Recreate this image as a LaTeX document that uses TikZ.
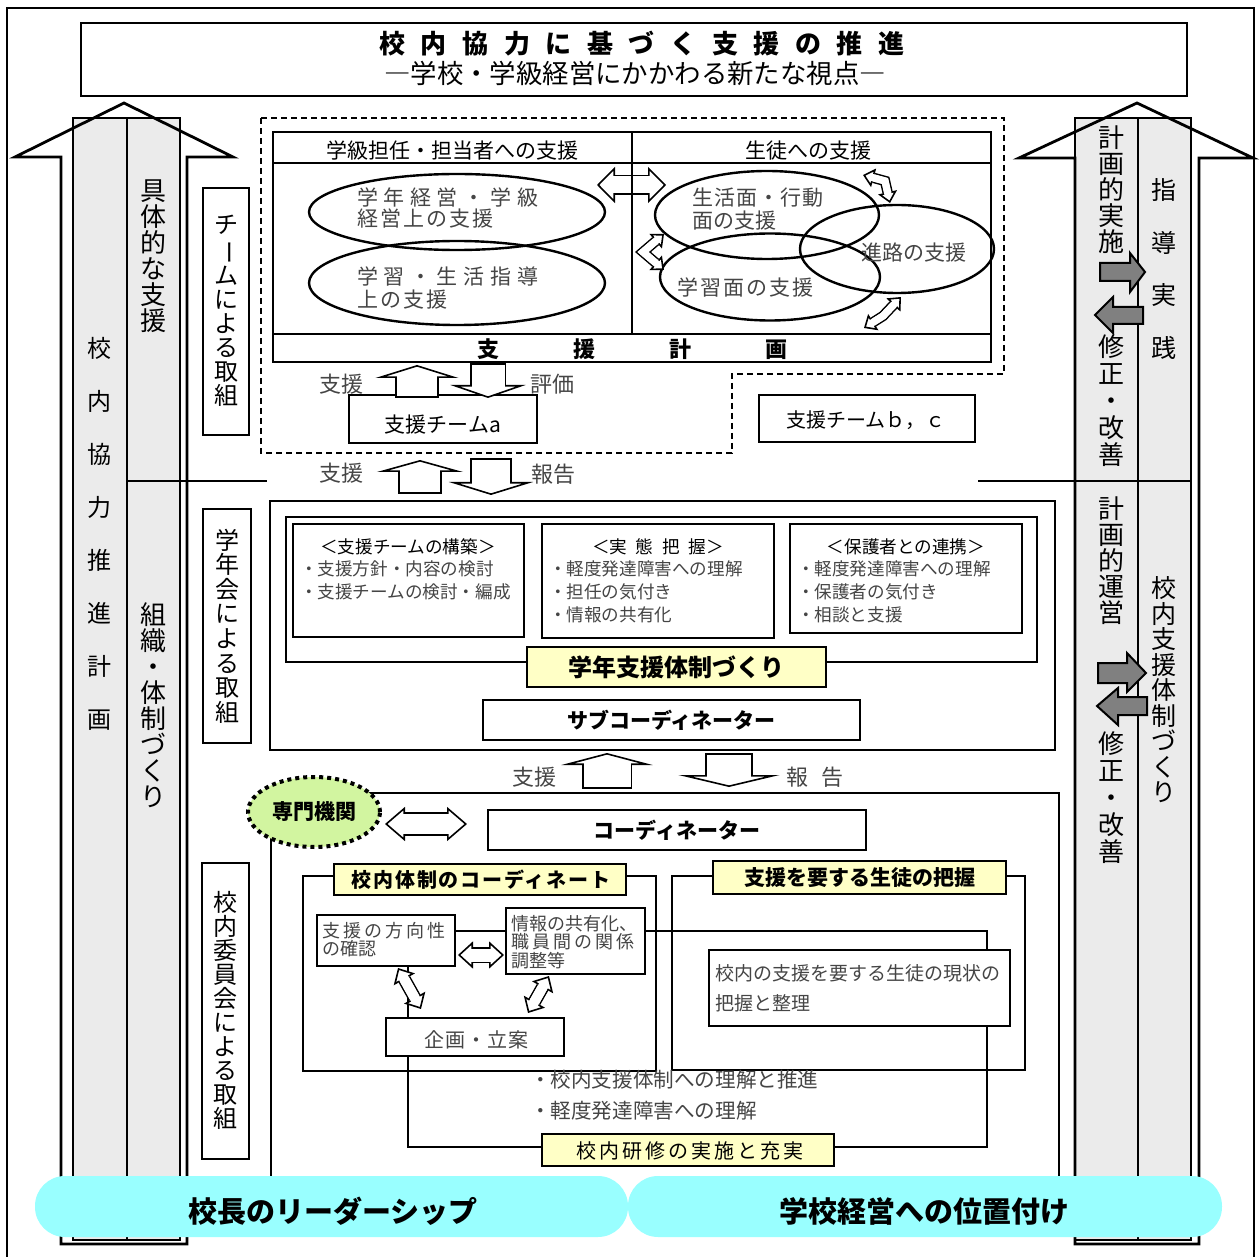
\documentclass[tikz,border=0pt]{standalone}
\usepackage{fontspec}
\setmainfont{Noto Sans CJK JP}
\usetikzlibrary{arrows.meta,shapes.geometric}
\definecolor{colshade}{HTML}{EBEBEB}
\definecolor{cyanbar}{HTML}{99FFFF}
\definecolor{lgreen}{HTML}{D2F5A0}
\definecolor{lyellow}{HTML}{FFFFC6}
\definecolor{txtgray}{HTML}{454545}
\definecolor{agray}{HTML}{808080}
\newcommand\fsz[1]{\fontsize{#1}{#1}\selectfont}
\newcommand\vbar{\rotatebox[origin=c]{-90}{ー}}
\newcommand\ls[1]{\addfontfeature{LetterSpace=#1}}
% single headed block arrow: shaft width, head width, head length, path
\newcommand\sglarrow[4]{%
  \draw[line width=#1+1.6pt, line join=miter, shorten <=-0.8pt, shorten >=#3] #4;
  \draw[white, line width=#1, line join=miter, -{Triangle[color=black,fill=white,line width=0.8pt,width=#2,length=#3]}] #4;
  \draw[white, line width=#1, line join=miter, shorten >=#3-1.2pt] #4;
}
% double headed block arrow
\newcommand\dblarrow[4]{%
  \draw[line width=#1+1.6pt, line join=miter, shorten <=#3, shorten >=#3] #4;
  \draw[white, line width=#1, line join=miter, {Triangle[color=black,fill=white,line width=0.8pt,width=#2,length=#3]}-{Triangle[color=black,fill=white,line width=0.8pt,width=#2,length=#3]}] #4;
  \draw[white, line width=#1, line join=miter, shorten <=#3-1.2pt, shorten >=#3-1.2pt] #4;
}
\begin{document}
\begin{tikzpicture}[x=0.5pt,y=-0.5pt,
  every node/.style={inner sep=0pt,outer sep=0pt},
  bx/.style={draw,line width=1.1pt,fill=white},
  ybx/.style={draw,line width=1.1pt,fill=lyellow},
  ln/.style={line width=1.1pt},
  thinln/.style={line width=0.6pt},
  gt/.style={text=txtgray},
  ell/.style={draw,ellipse,line width=1.2pt},
  garrow/.style={draw,fill=agray,line width=1pt,line join=miter},
  bigarrow/.style={line width=1.4pt,line join=miter},
]
\useasboundingbox (0,0) rectangle (1260,1257);
\draw[line width=1pt] (7,1257) -- (7,8) -- (1254,8) -- (1254,1257);

% ---------------- title
\node[bx, minimum width=553pt, minimum height=36.5pt] (titlebox) at (634,59.5) {};
\node[font=\fsz{13}\bfseries\ls{60}] (ttl) at (642,44) {校内協力に基づく支援の推進};
\node[font=\fsz{13.2}] (sub) at (635,73) {―学校・学級経営にかかわる新たな視点―};

% ---------------- left big arrow
\fill[colshade] (73,118) rectangle (180,1240);
\draw[thinln] (73,118) rectangle (180,1240);
\draw[thinln] (127,118) -- (127,1240);
\draw[bigarrow] (61,1244) -- (61,157) -- (15,157) -- (124,103) -- (233,157) -- (187,157) -- (187,1244) -- cycle;
\draw[thinln] (127,481) -- (267,481);
\node[font=\fontsize{12}{26.5}\selectfont, align=center] (lplan) at (99,534) {校\\内\\協\\力\\推\\進\\計\\画};
\node[font=\fontsize{13}{13}\selectfont, align=center] (lgutai) at (153,256) {具\\体\\的\\な\\支\\援};
\node[font=\fontsize{13}{13}\selectfont, align=center] (lsoshiki) at (153,705) {組\\織\\・\\体\\制\\づ\\く\\り};

% ---------------- right big arrow
\fill[colshade] (1075,118) rectangle (1191,1240);
\draw[thinln] (1075,118) rectangle (1191,1240);
\draw[thinln] (1138,118) -- (1138,1240);
\draw[bigarrow] (1075,1244) -- (1075,158) -- (1019,158) -- (1137,103) -- (1253,158) -- (1199,158) -- (1199,1244) -- cycle;
\draw[thinln] (978,481) -- (1191,481);
\node[font=\fontsize{13}{13}\selectfont, align=center] (rjisshi) at (1111,190) {計\\画\\的\\実\\施};
\node[font=\fontsize{13}{13.5}\selectfont, align=center] (rshusei1) at (1111,401) {修\\正\\・\\改\\善};
\node[font=\fontsize{13}{13}\selectfont, align=center] (runei) at (1111,561) {計\\画\\的\\運\\営};
\node[font=\fontsize{13}{13.5}\selectfont, align=center] (rshusei2) at (1111,798) {修\\正\\・\\改\\善};
\node[font=\fontsize{12.5}{26.5}\selectfont, align=center] (rshido) at (1164,269) {指\\導\\実\\践};
\node[font=\fontsize{12.5}{12.75}\selectfont, align=center] (rtaisei) at (1164,690) {校\\内\\支\\援\\体\\制\\づ\\く\\り};
% gray arrows
\draw[garrow] (1100,263) -- (1130,263) -- (1130,253) -- (1145,272) -- (1130,292) -- (1130,281) -- (1100,281) -- cycle;
\draw[garrow] (1143,307) -- (1113,307) -- (1113,297) -- (1095,315) -- (1113,333) -- (1113,324) -- (1143,324) -- cycle;
\draw[garrow] (1098,663) -- (1127,663) -- (1127,653) -- (1146,673) -- (1127,692) -- (1127,683) -- (1098,683) -- cycle;
\draw[garrow] (1147,697) -- (1118,697) -- (1118,688) -- (1097,706) -- (1118,725) -- (1118,715) -- (1147,715) -- cycle;

% ---------------- vertical label boxes
\node[bx, minimum width=23pt, minimum height=123.5pt] (vteam) at (226,311.5) {};
\node[font=\fontsize{12}{12}\selectfont, align=center] (vteamt) at (226,311) {チ\\\vbar\\ム\\に\\よ\\る\\取\\組};
\node[bx, minimum width=24pt, minimum height=117pt] (vgakunen) at (227,626) {};
\node[font=\fontsize{12}{12.3}\selectfont, align=center] (vgakunent) at (227,626) {学\\年\\会\\に\\よ\\る\\取\\組};
\node[bx, minimum width=23.5pt, minimum height=148pt] (viinkai) at (225.5,1011) {};
\node[font=\fontsize{12}{12}\selectfont, align=center] (viinkait) at (225.5,1010) {校\\内\\委\\員\\会\\に\\よ\\る\\取\\組};

% ---------------- top dashed region
\draw[line width=0.9pt, dash pattern=on 3pt off 2pt] (261,118) -- (1004,118) -- (1004,374) -- (732,374) -- (732,453) -- (261,453) -- cycle;
\node[bx, minimum width=359pt, minimum height=115pt] (plan) at (632,247) {};
\draw[ln] (273,163) -- (991,163);
\draw[ln] (273,334) -- (991,334);
\node[font=\fsz{10.5}] (hteacher) at (452,151) {学級担任・担当者への支援};
\node[font=\fsz{10.5}] (hstudent) at (808,151) {生徒への支援};
\node[font=\fsz{11}\bfseries] (plantitle) at (632,349) {支\hspace{37pt}援\hspace{37pt}計\hspace{37pt}画};

\node[ell, minimum width=148pt, minimum height=38pt] (e1) at (457,212) {};
\node[ell, minimum width=148pt, minimum height=42pt] (e2) at (457,283) {};
\node[ell, minimum width=112pt, minimum height=44pt] (e3) at (767,215) {};
\node[ell, minimum width=110pt, minimum height=43.5pt] (e4) at (770,277) {};
\node[ell, minimum width=97pt, minimum height=44pt] (e5) at (897,249) {};
\node[gt, anchor=west, font=\fsz{10.5}\ls{27}] (e1a) at (357,197) {学年経営・学級};
\node[gt, anchor=west, font=\fsz{10.5}\ls{10}] (e1b) at (357,219) {経営上の支援};
\node[gt, anchor=west, font=\fsz{10.5}\ls{27}] (e2a) at (357,277) {学習・生活指導};
\node[gt, anchor=west, font=\fsz{10.5}\ls{10}] (e2b) at (357,300) {上の支援};
\node[gt, anchor=west, font=\fsz{10.5}\ls{5}] (e3a) at (692,198) {生活面・行動};
\node[gt, anchor=west, font=\fsz{10.5}] (e3b) at (692,221) {面の支援};
\node[gt, anchor=west, font=\fsz{10.5}\ls{10}] (e4a) at (677,288) {学習面の支援};
\node[gt, anchor=west, font=\fsz{10.5}] (e5a) at (861,253) {進路の支援};

\dblarrow{8.5pt}{18pt}{9pt}{(597,185) -- (666,185)}
\draw[ln] (632,132) -- (632,334);
\dblarrow{3.6pt}{9.5pt}{5.5pt}{(664,234) -- (643,252) -- (664,270)}
\dblarrow{3.6pt}{9.5pt}{5.5pt}{(863,175) -- (885,181) -- (890,203)}
\dblarrow{3.6pt}{9.5pt}{5.5pt}{(864,328) -- (883,316) -- (901,297)}

% team boxes
\node[bx, minimum width=94pt, minimum height=24pt] (teama) at (443,419) {};
\node[font=\fsz{10.5}] (teamat) at (443,425) {支援チームa};
\node[bx, minimum width=108pt, minimum height=23.5pt] (teambc) at (867,418.5) {};
\node[font=\fsz{10}] (teambct) at (866,420) {支援チームｂ，ｃ};

% support / evaluation arrows
\sglarrow{20pt}{41.5pt}{6.5pt}{(417,396) -- (417,365)}
\sglarrow{16.5pt}{37.5pt}{6.5pt}{(488,365) -- (488,398)}
\node[gt, font=\fsz{11}] (l1) at (341,384) {支援};
\node[gt, font=\fsz{11}] (l2) at (552,384) {評価};
\sglarrow{20pt}{43pt}{6pt}{(420,492) -- (420,460)}
\sglarrow{19pt}{42pt}{6.5pt}{(491,460) -- (491,495)}
\node[gt, font=\fsz{11}] (l3) at (341,473) {支援};
\node[gt, font=\fsz{11}] (l4) at (553,474) {報告};

% ---------------- grade section
\node[bx, minimum width=392.5pt, minimum height=124.5pt] (grade) at (662.5,625.5) {};
\node[bx, minimum width=375.5pt, minimum height=72.5pt] (gradein) at (661.5,589.5) {};
\node[bx, minimum width=115.5pt, minimum height=56.5pt] (gb1) at (408.5,580.5) {};
\node[bx, minimum width=116pt, minimum height=57pt] (gb2) at (658,581) {};
\node[bx, minimum width=116pt, minimum height=54.5pt] (gb3) at (906,578.5) {};
\node[font=\fsz{8.8}] (gb1h) at (408,547) {＜支援チームの構築＞};
\node[gt, anchor=west, font=\fsz{8.8}] (gb1a) at (300,569) {・支援方針・内容の検討};
\node[gt, anchor=west, font=\fsz{8.8}] (gb1b) at (300,592) {・支援チームの検討・編成};
\node[font=\fsz{8.8}] (gb2h) at (658,547) {＜実\hspace{0.5em}態\hspace{0.5em}把\hspace{0.5em}握＞};
\node[gt, anchor=west, font=\fsz{8.8}] (gb2a) at (549,569) {・軽度発達障害への理解};
\node[gt, anchor=west, font=\fsz{8.8}] (gb2b) at (549,592) {・担任の気付き};
\node[gt, anchor=west, font=\fsz{8.8}] (gb2c) at (549,615) {・情報の共有化};
\node[font=\fsz{8.8}] (gb3h) at (906,547) {＜保護者との連携＞};
\node[gt, anchor=west, font=\fsz{8.8}] (gb3a) at (797,569) {・軽度発達障害への理解};
\node[gt, anchor=west, font=\fsz{8.8}] (gb3b) at (797,592) {・保護者の気付き};
\node[gt, anchor=west, font=\fsz{8.8}] (gb3c) at (797,615) {・相談と支援};
\node[ybx, minimum width=149.5pt, minimum height=20pt, font=\fsz{12}\bfseries] (gradesys) at (676.5,667) {学年支援体制づくり};
\node[bx, minimum width=188.5pt, minimum height=20pt, font=\fsz{10.5}\bfseries] (subco) at (671.5,720) {サブコーディネーター};

\sglarrow{23.5pt}{45.5pt}{6pt}{(607,787) -- (607,753)}
\sglarrow{22pt}{50.5pt}{6pt}{(729,755) -- (729,787)}
\node[gt, font=\fsz{11}] (l5) at (534,777) {支援};
\node[gt, font=\fsz{11}] (l6) at (815,777) {報\hspace{7pt}告};

% ---------------- school section
\draw[ln] (271,1176) -- (271,793) -- (1059,793) -- (1059,1176);
\node[ellipse, draw=black, line width=2pt, dash pattern=on 2pt off 2pt, fill=lgreen, minimum width=66pt, minimum height=35pt, font=\fsz{10.5}\bfseries] (senmon) at (314,812) {専門機関};
\dblarrow{10pt}{17pt}{10pt}{(385,824) -- (467,824)}
\node[bx, minimum width=189pt, minimum height=20pt, font=\fsz{10.5}\bfseries] (coord) at (677,830) {コーディネーター};

\draw[ln] (408,931) rectangle (987,1147);
\draw[ln] (303,876) rectangle (656,1071);
\draw[ln] (672,876) rectangle (1025,1070);
\node[ybx, minimum width=146pt, minimum height=15.5pt] (lab1) at (480,879.5) {};
\node[font=\fsz{10}\bfseries\ls{9}] (lab1t) at (481,880) {校内体制のコーディネート};
\node[ybx, minimum width=146.5pt, minimum height=16.5pt, font=\fsz{10.5}\bfseries] (lab2) at (859.5,877.5) {支援を要する生徒の把握};

\node[bx, minimum width=69pt, minimum height=25.5pt] (ba) at (386,940.5) {};
\node[gt, anchor=west, font=\fsz{9}\ls{17}] (baa) at (322,931) {支援の方向性};
\node[gt, anchor=west, font=\fsz{9}] (bab) at (322,949) {の確認};
\node[bx, minimum width=69.5pt, minimum height=33pt] (bb) at (575.5,941) {};
\node[gt, anchor=west, font=\fsz{9}] (bba) at (511,924) {情報の共有化、};
\node[gt, anchor=west, font=\fsz{9}\ls{17}] (bbb) at (511,942) {職員間の関係};
\node[gt, anchor=west, font=\fsz{9}] (bbc) at (511,961) {調整等};
\node[bx, minimum width=89pt, minimum height=19pt] (bc) at (475,1037) {};
\node[gt, font=\fsz{10}\ls{5}] (bct) at (476,1040) {企画・立案};
\node[bx, minimum width=150.5pt, minimum height=38pt] (bd) at (859.5,988) {};
\node[gt, anchor=west, font=\fsz{9.5}] (bda) at (715,973) {校内の支援を要する生徒の現状の};
\node[gt, anchor=west, font=\fsz{9.5}] (bdb) at (715,1003) {把握と整理};

\dblarrow{6.5pt}{13.5pt}{7.5pt}{(458,955) -- (504,955)}
\dblarrow{5pt}{12pt}{6.5pt}{(398,968) -- (421,1009)}
\dblarrow{5pt}{12pt}{6.5pt}{(549,976) -- (528,1013)}

\node[gt, anchor=west, font=\fsz{10.3}] (bul1) at (530,1080) {・校内支援体制への理解と推進};
\node[gt, anchor=west, font=\fsz{10.3}] (bul2) at (530,1111) {・軽度発達障害への理解};
\node[ybx, minimum width=146pt, minimum height=16pt] (kenshu) at (688,1150) {};
\node[font=\fsz{10}\ls{15}] (kenshut) at (689.5,1151) {校内研修の実施と充実};

% ---------------- bottom bars
\node[fill=cyanbar, rounded corners=15pt, minimum width=296.5pt, minimum height=30.5pt] (leader) at (331.5,1206.5) {};
\node[fill=cyanbar, rounded corners=15pt, minimum width=297pt, minimum height=30.5pt] (keiei) at (925,1206.5) {};
\node[font=\fsz{14.5}\bfseries] (leadert) at (333,1211) {校長のリーダーシップ};
\node[font=\fsz{14.5}\bfseries] (keieit) at (924,1211) {学校経営への位置付け};
\end{tikzpicture}
\end{document}
